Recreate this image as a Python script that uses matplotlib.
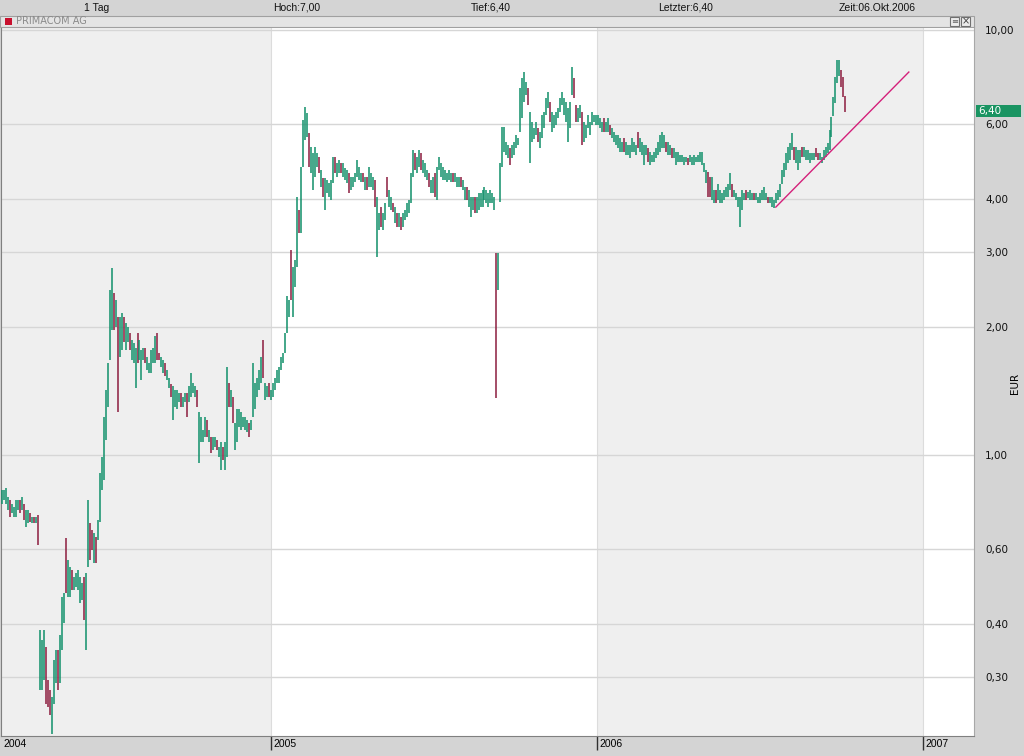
import numpy as np
import pandas as pd
import matplotlib
matplotlib.use('Agg')
import matplotlib.pyplot as plt
import matplotlib.dates as mdates
import matplotlib.transforms as mtrans
from matplotlib.patches import Rectangle
from matplotlib.ticker import FixedLocator, NullLocator

# ---------------- data ----------------
highs = [
    0.827, 0.827, 0.836, 0.797, 0.784, 0.768, 0.755, 0.784, 0.784, 0.784,
    0.797, 0.768, 0.742, 0.742, 0.730, 0.714, 0.714, 0.714, 0.722, 0.388,
    0.367, 0.388, 0.353, 0.296, 0.280, 0.270, 0.330, 0.348, 0.348, 0.377,
    0.464, 0.474, 0.638, 0.566, 0.545, 0.537, 0.516, 0.528, 0.537, 0.516,
    0.500, 0.516, 0.528, 0.784, 0.692, 0.666, 0.655, 0.641, 0.703, 0.907,
    0.990, 1.23, 1.42, 1.65, 2.44, 2.76, 2.40, 2.32, 2.11, 2.11,
    2.16, 2.11, 2.04, 2.00, 1.94, 1.86, 1.83, 1.79, 1.94, 1.86,
    1.77, 1.79, 1.79, 1.70, 1.65, 1.77, 1.79, 1.90, 1.94, 1.74,
    1.70, 1.67, 1.65, 1.585, 1.52, 1.47, 1.45, 1.42, 1.42, 1.40,
    1.40, 1.37, 1.40, 1.40, 1.45, 1.56, 1.48, 1.45, 1.42, 1.26,
    1.23, 1.145, 1.23, 1.21, 1.145, 1.10, 1.10, 1.10, 1.085, 1.045,
    1.07, 1.045, 1.07, 1.61, 1.48, 1.42, 1.37, 1.19, 1.28, 1.28,
    1.26, 1.23, 1.23, 1.21, 1.19, 1.21, 1.65, 1.48, 1.52, 1.585,
    1.70, 1.86, 1.48, 1.45, 1.48, 1.42, 1.48, 1.52, 1.585, 1.61,
    1.70, 1.74, 1.94, 2.36, 2.32, 3.04, 2.77, 2.88, 4.05, 3.77,
    4.76, 6.14, 6.58, 6.36, 5.72, 5.31, 5.14, 5.31, 5.14, 5.02,
    4.69, 4.49, 4.49, 4.44, 4.37, 4.44, 5.02, 5.02, 4.86, 4.94,
    4.86, 4.86, 4.74, 4.69, 4.61, 4.51, 4.51, 4.61, 4.94, 4.76,
    4.61, 4.61, 4.51, 4.51, 4.76, 4.61, 4.51, 4.44, 4.05, 3.71,
    3.83, 3.71, 3.91, 4.51, 4.20, 4.05, 3.91, 3.83, 3.71, 3.71,
    3.63, 3.71, 3.77, 3.91, 3.98, 4.61, 5.22, 5.14, 5.02, 5.22,
    5.14, 4.94, 4.86, 4.69, 4.61, 4.44, 4.51, 4.61, 4.76, 5.02,
    4.86, 4.76, 4.69, 4.61, 4.69, 4.61, 4.61, 4.61, 4.51, 4.51,
    4.51, 4.44, 4.27, 4.27, 4.20, 4.05, 4.05, 4.05, 4.05, 4.13,
    4.13, 4.20, 4.27, 4.20, 4.13, 4.20, 4.13, 4.05, 2.99, 2.99,
    4.86, 5.92, 5.92, 5.45, 5.37, 5.28, 5.37, 5.45, 5.66, 5.57,
    7.30, 7.71, 7.95, 7.55, 7.30, 6.41, 6.07, 5.88, 6.07, 5.88,
    5.75, 6.31, 6.41, 6.92, 7.14, 6.77, 6.41, 6.31, 6.41, 6.55,
    6.92, 7.14, 6.92, 6.77, 6.55, 6.77, 8.17, 7.71, 6.66, 6.55,
    6.66, 6.41, 6.07, 5.98, 6.31, 6.07, 6.41, 6.31, 6.31, 6.31,
    6.21, 6.07, 6.21, 6.07, 6.21, 5.98, 5.88, 5.75, 5.66, 5.66,
    5.57, 5.45, 5.57, 5.45, 5.37, 5.37, 5.57, 5.45, 5.37, 5.75,
    5.57, 5.45, 5.37, 5.37, 5.28, 5.17, 5.08, 5.17, 5.28, 5.45,
    5.66, 5.75, 5.66, 5.45, 5.45, 5.37, 5.28, 5.28, 5.17, 5.17,
    5.08, 5.08, 5.02, 5.02, 4.99, 5.08, 5.02, 5.08, 5.02, 5.08,
    5.17, 5.17, 4.86, 4.69, 4.64, 4.51, 4.51, 4.20, 4.20, 4.34,
    4.20, 4.13, 4.20, 4.27, 4.34, 4.61, 4.34, 4.20, 4.13, 4.05,
    4.05, 4.20, 4.13, 4.20, 4.16, 4.20, 4.13, 4.13, 4.13, 4.05,
    4.13, 4.20, 4.27, 4.13, 4.05, 4.05, 4.05, 3.98, 4.13, 4.20,
    4.34, 4.69, 4.86, 5.14, 5.31, 5.42, 5.72, 5.31, 5.31, 5.22,
    5.22, 5.31, 5.31, 5.22, 5.22, 5.14, 5.14, 5.14, 5.28, 5.14,
    5.14, 5.02, 5.22, 5.31, 5.42, 5.82, 6.24, 6.95, 7.75, 8.50,
    8.50, 8.05, 7.75, 7.00,
]

lows = [
    0.768, 0.784, 0.768, 0.742, 0.714, 0.730, 0.714, 0.714, 0.742, 0.730,
    0.742, 0.703, 0.677, 0.692, 0.695, 0.692, 0.692, 0.692, 0.614, 0.280,
    0.280, 0.296, 0.260, 0.256, 0.245, 0.220, 0.260, 0.291, 0.280, 0.291,
    0.348, 0.402, 0.474, 0.464, 0.464, 0.482, 0.482, 0.490, 0.482, 0.449,
    0.456, 0.409, 0.348, 0.545, 0.566, 0.598, 0.557, 0.557, 0.631, 0.695,
    0.827, 0.873, 1.085, 1.30, 1.67, 1.97, 1.97, 2.00, 1.26, 1.70,
    1.77, 1.84, 1.77, 1.84, 1.77, 1.67, 1.65, 1.44, 1.65, 1.67,
    1.50, 1.67, 1.65, 1.585, 1.56, 1.56, 1.65, 1.65, 1.67, 1.67,
    1.61, 1.56, 1.53, 1.50, 1.44, 1.37, 1.21, 1.30, 1.28, 1.33,
    1.30, 1.30, 1.33, 1.23, 1.33, 1.37, 1.40, 1.37, 1.30, 0.957,
    1.07, 1.07, 1.10, 1.10, 1.07, 1.01, 1.03, 1.045, 1.03, 0.99,
    0.922, 0.973, 0.922, 0.99, 1.30, 1.30, 1.19, 1.03, 1.07, 1.165,
    1.145, 1.165, 1.145, 1.13, 1.10, 1.145, 1.23, 1.28, 1.37, 1.42,
    1.48, 1.52, 1.35, 1.37, 1.37, 1.35, 1.37, 1.42, 1.48, 1.48,
    1.585, 1.65, 1.74, 1.94, 2.11, 2.32, 2.11, 2.49, 2.77, 3.33,
    3.33, 4.76, 5.51, 5.60, 4.76, 4.61, 4.20, 4.51, 4.76, 4.61,
    4.27, 4.05, 3.77, 4.13, 4.05, 3.98, 4.37, 4.61, 4.51, 4.61,
    4.61, 4.51, 4.44, 4.37, 4.13, 4.20, 4.27, 4.39, 4.51, 4.44,
    4.39, 4.39, 4.20, 4.20, 4.27, 4.27, 4.20, 3.83, 2.93, 3.38,
    3.44, 3.38, 3.57, 4.05, 3.83, 3.77, 3.73, 3.51, 3.44, 3.44,
    3.38, 3.44, 3.57, 3.63, 3.71, 3.91, 4.51, 4.69, 4.61, 4.76,
    4.69, 4.61, 4.51, 4.44, 4.27, 4.13, 4.13, 4.05, 3.98, 4.69,
    4.51, 4.44, 4.44, 4.39, 4.44, 4.39, 4.39, 4.39, 4.27, 4.27,
    4.27, 4.20, 3.98, 3.98, 3.83, 3.63, 3.77, 3.71, 3.71, 3.77,
    3.83, 3.83, 3.98, 3.91, 3.83, 3.91, 3.91, 3.77, 1.36, 2.44,
    3.94, 4.76, 5.17, 5.08, 4.99, 4.81, 4.99, 5.08, 5.28, 5.37,
    5.76, 6.21, 6.77, 7.03, 6.66, 4.86, 5.45, 5.54, 5.66, 5.45,
    5.28, 5.57, 5.88, 6.31, 6.55, 6.07, 5.75, 5.88, 5.98, 6.21,
    6.41, 6.66, 6.31, 6.07, 5.45, 5.88, 7.03, 6.92, 6.07, 6.07,
    6.21, 5.37, 5.45, 5.57, 5.88, 5.66, 5.98, 6.07, 5.98, 5.98,
    5.88, 5.75, 5.75, 5.75, 5.75, 5.66, 5.57, 5.45, 5.37, 5.28,
    5.17, 5.17, 5.17, 5.08, 5.08, 4.99, 5.17, 5.17, 5.08, 5.28,
    5.17, 5.08, 4.81, 5.08, 4.90, 4.81, 4.90, 4.90, 4.99, 5.08,
    5.17, 5.28, 5.28, 5.17, 5.08, 5.08, 4.99, 4.99, 4.81, 4.90,
    4.90, 4.88, 4.81, 4.88, 4.81, 4.88, 4.81, 4.81, 4.88, 4.90,
    4.90, 4.81, 4.64, 4.37, 4.05, 4.05, 3.98, 3.91, 3.91, 3.98,
    3.91, 3.91, 3.98, 4.05, 4.05, 4.20, 4.05, 4.05, 3.98, 3.83,
    3.44, 3.77, 3.98, 3.98, 4.02, 3.98, 3.98, 3.98, 3.98, 3.91,
    3.91, 3.98, 3.98, 3.98, 3.91, 3.91, 3.83, 3.81, 3.91, 3.98,
    4.05, 4.34, 4.51, 4.69, 4.86, 4.94, 5.22, 4.94, 4.86, 4.69,
    4.86, 5.02, 5.02, 4.94, 4.94, 4.86, 4.94, 4.94, 5.02, 4.94,
    4.94, 4.86, 4.94, 5.02, 5.14, 5.22, 5.60, 6.28, 6.73, 7.50,
    7.80, 7.34, 6.95, 6.40,
]

# candle direction per bar: g = up (green), r = down (red)
directions = (
    "ggggrggggr" "grggrgrgrg" "ggrrrgggrg" "ggrggrgggg" "grggrrgrgg"
    "ggggggrgrg" "grggrgggrg" "ggrgggggrr" "ggrggrgggg" "rggrggggrg"
    "gggrgrggrg" "grggrgrggg" "ggggrggggg" "grggrggggg" "gggggrgggr"
    "ggggrggggr" "grgggggrgg" "rgggrggggg" "grgrgggrgg" "rggrggrgrg"
    "rggggggrgg" "rgggrggrgg" "ggggggrggg" "rggrgggrgg" "ggggggggrg"
    "gggggrgggg" "ggggrggggr" "gggggrgggg" "gggggggrrg" "grgggggggg"
    "ggrggrgggg" "ggrggggggr" "ggggrggggg" "gggrggrggg" "ggggrggggg"
    "ggggrrggrg" "ggggggrggg" "gggrgggrgg" "ggggrggggg" "gggggggrgg"
    "grggggggrr" "gggggggggg" "grrr"
)

first_day = "2004-03-05"
last_day = "2006-10-06"
trend_dates = ["2006-07-20", "2006-12-16"]
trend_prices = [3.83, 7.96]
last_price = 6.40

y_ticks = [0.3, 0.4, 0.6, 1.0, 2.0, 3.0, 4.0, 6.0, 10.0]
y_tick_labels = ["0,30", "0,40", "0,60", "1,00", "2,00", "3,00", "4,00", "6,00", "10,00"]
year_starts = ["2005-01-01", "2006-01-01", "2007-01-01"]
year_labels = ["2005", "2006", "2007"]
header_texts = ["1 Tag", "Hoch:7,00", "Tief:6,40", "Letzter:6,40", "Zeit:06.Okt.2006"]
title_text = "PRIMACOM AG"

# ---------------- styling ----------------
GREEN = "#11906a"
RED = "#8c1c3e"
PINK = "#d4207a"
BG = "#d4d4d4"
SHADE = "#efefef"
GRID = "#d6d6d6"

W, H = 1024, 756
fig = plt.figure(figsize=(W / 100, H / 100), dpi=100, facecolor=BG)


def fx(px):
    return px / W


def fy(py):
    return 1 - py / H


ax = fig.add_axes([fx(1), fy(736), fx(974) - fx(1), fy(27) - fy(736)])
ax.set_facecolor("white")
ax.set_yscale("log")
ax.set_ylim(0.2182, 10.16)
x_left = mdates.date2num(pd.Timestamp("2004-03-04"))
x_right = mdates.date2num(pd.Timestamp("2007-02-27"))
ax.set_xlim(x_left, x_right)

ys = [mdates.date2num(pd.Timestamp(d)) for d in year_starts]
ax.axvspan(x_left, ys[0], color=SHADE, lw=0, zorder=0)
ax.axvspan(ys[1], ys[2], color=SHADE, lw=0, zorder=0)
for v in ys:
    ax.axvline(v, color="#dcdcdc", lw=0.8, zorder=0.5)

for t in y_ticks:
    ax.axhline(t, color=GRID, lw=1.0, zorder=1)

n = min(len(highs), len(lows), len(directions))
dates = mdates.date2num(pd.date_range(first_day, last_day, periods=n))
cols = [GREEN if c == "g" else RED for c in directions[:n]]
ax.vlines(dates, lows[:n], highs[:n], colors=cols, lw=1.1, zorder=3)

tx = [mdates.date2num(pd.Timestamp(d)) for d in trend_dates]
ax.plot(tx, trend_prices, color=PINK, lw=1.0, zorder=4)

# y axis on the right
ax.yaxis.tick_right()
ax.yaxis.set_major_locator(FixedLocator(y_ticks))
ax.set_yticklabels(y_tick_labels)
ax.yaxis.set_minor_locator(NullLocator())
ax.tick_params(axis="y", length=0, pad=8, labelsize=7.5, labelcolor="#111111")

# x axis: year ticks with labels to the right of the tick
ax.set_xticks(ys)
ax.xaxis.set_minor_locator(NullLocator())
ax.tick_params(axis="x", length=10, width=1, color="#303030", direction="out",
               labelbottom=False)
lab_tr = mtrans.offset_copy(
    mtrans.blended_transform_factory(ax.transData, ax.transAxes),
    fig=fig, x=2, y=-3, units="dots")
ax.text(x_left, 0, "2004", transform=lab_tr, ha="left", va="top", size=7.5,
        family="Liberation Sans")
for xv, lab in zip(ys, year_labels):
    ax.text(xv, 0, lab, transform=lab_tr, ha="left", va="top", size=7.5,
            family="Liberation Sans")

for s in ["left", "bottom"]:
    ax.spines[s].set_color("#808080")
ax.spines["right"].set_color("#a8a8a8")
ax.spines["top"].set_visible(False)

# EUR axis title
fig.text(fx(1015), fy(383), "EUR", rotation=90, ha="center", va="center", size=7.5)

# header row
for s, cx in zip(header_texts, [97, 297, 491, 686, 877]):
    fig.text(fx(cx), fy(8), s, ha="center", va="center", size=7.5,
             family="Liberation Sans", color="#111111")

# title bar
fig.patches.append(Rectangle((fx(0), fy(27)), fx(974), 11 / H, transform=fig.transFigure,
                             facecolor="#e4e4e4", edgecolor="#a0a0a0", lw=0.8))
fig.patches.append(Rectangle((fx(5), fy(25)), 7 / W, 7 / H, transform=fig.transFigure,
                             facecolor="#c8102e", edgecolor="none"))
fig.text(fx(16), fy(21.5), title_text, ha="left", va="center", size=7,
         color="#8a8a8a", family="DejaVu Sans")
for x0 in (950, 961):
    fig.patches.append(Rectangle((fx(x0), fy(26)), 9 / W, 9 / H, transform=fig.transFigure,
                                 facecolor="#ececec", edgecolor="#707070", lw=0.8))
fig.text(fx(954.5), fy(21.5), "≡", ha="center", va="center", size=6, color="#606060")
fig.text(fx(965.5), fy(21.5), "×", ha="center", va="center", size=7, color="#404040")

# last-price marker
y_disp = ax.transData.transform((dates[-1], last_price))[1]
fig.patches.append(Rectangle((fx(976), (y_disp - 5) / H), 45 / W, 12 / H,
                             transform=fig.transFigure, facecolor="#1a9462",
                             edgecolor="none"))
fig.text(fx(978), (y_disp + 1) / H, "6,40", ha="left", va="center", size=7.5,
         color="white")

fig.savefig("out.png", dpi=100, facecolor=BG)
